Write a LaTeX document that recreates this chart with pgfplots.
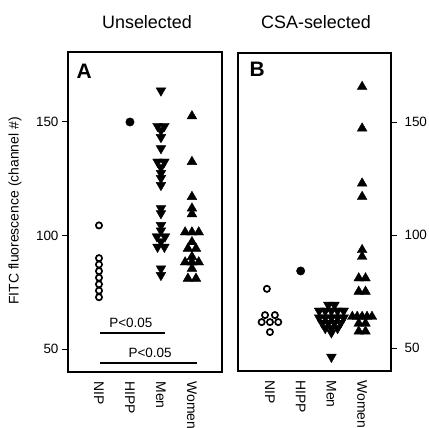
\documentclass[border=0pt]{standalone}
\usepackage{pgfplots}
\pgfplotsset{compat=1.18}
\usepackage{fontspec}
\setmainfont{Liberation Sans}
\begin{document}
\begin{tikzpicture}
\path[use as bounding box] (0,0) rectangle (429bp,428bp);
\clip (0,0) rectangle (429bp,428bp);
\pgfplotsset{
  panel/.style={
    scale only axis,
    anchor=south west,
    axis line style={line width=1.3bp},
    ymin=40,
    xtick={0,1,2,3},
    xticklabels={NIP,HIPP,Men,Women},
    x tick style={draw=none},
    xticklabel style={rotate=-90, anchor=west, font=\fontsize{14}{16}\selectfont},
    ytick={50,100,150},
    tick align=outside,
    major tick length=6bp,
    y tick style={line width=1bp, black},
    yticklabel style={font=\fontsize{13.5}{15}\selectfont},
    /pgf/number format/assume math mode=true,
    clip=false,
  },
  opencirc/.style={only marks, mark=o, mark size=3.1bp, mark options={line width=1.7bp, draw=black}},
  fillcirc/.style={only marks, mark=*, mark size=4.2bp, mark options={fill=black, draw=black}},
  tridown/.style={only marks, mark=triangle*, mark size=5.6bp, mark options={rotate=180, fill=black, draw=none}},
  triup/.style={only marks, mark=triangle*, mark size=5.6bp, mark options={fill=black, draw=none}},
}
% ---------------- Panel A ----------------
\begin{axis}[panel,
  at={(68bp,56bp)}, width=154bp, height=320bp,
  xmin=-1, xmax=3.97, ymax=180.8,
  ytick pos=left,
]
\addplot[opencirc] coordinates {(0,104.5)(0,90.1)(0,87.3)(0,84.4)(0,81.5)(0,78.6)(0,75.8)(0,72.9)};
\addplot[fillcirc] coordinates {(1,150)};
\addplot[tridown] coordinates {
 (2,163.8)
 (1.89,148.2)(2.11,148.2)
 (2,146.3)(2,143.3)(2,138.4)
 (1.89,132.5)(2.11,132.5)
 (2,130)(2,127.5)(2,125.3)(2,122.2)
 (2,112)(2,109.8)(2,104.6)(2,102.2)
 (1.87,99.6)(2.13,99.6)(2,97.4)(1.89,95)(2.11,95)
 (2,85.5)(2,82.6)};
\addplot[triup] coordinates {
 (3,152.6)(3,132.5)(3,117.1)(3,112)(3,109.5)
 (2.78,101.5)(3,101.5)(3.22,101.5)
 (3,97.2)
 (2.87,94.3)(3.13,94.3)
 (3,90.7)
 (2.78,88.3)(3,88.3)(3.22,88.3)
 (3,85.5)
 (2.87,81.1)(3.13,81.1)};
\addplot[black, line width=1.3bp] coordinates {(0.03,57.2)(2.13,57.2)};
\addplot[black, line width=1.3bp] coordinates {(0.03,43.9)(3.16,43.9)};
\node[font=\fontsize{13.5}{15}\selectfont] at (axis cs:1.03,61.6) {P<0.05};
\node[font=\fontsize{13.5}{15}\selectfont] at (axis cs:1.65,48.3) {P<0.05};
\node[anchor=north west, inner sep=0pt, font=\fontsize{21}{23}\bfseries] at (rel axis cs:0.055,0.962) {A};
\end{axis}
% ---------------- Panel B ----------------
\begin{axis}[panel,
  at={(238bp,57bp)}, width=153bp, height=318bp,
  xmin=-1.04, xmax=3.94, ymax=180.5,
  ytick pos=right,
  yticklabel style={xshift=4bp},
]
\addplot[opencirc] coordinates {(-0.1,76.3)(-0.16,64.7)(0.16,64.7)(-0.27,61.6)(0,61.6)(0.27,61.6)(0,57.2)};
\addplot[fillcirc] coordinates {(1,84.2)};
\addplot[tridown] coordinates {
 (1.9,69.2)(2.1,69.2)
 (1.6,66.6)(1.8,66.6)(2,66.6)(2.2,66.6)(2.4,66.6)
 (1.6,63.6)(1.8,63.6)(2,63.6)(2.2,63.6)(2.4,63.6)
 (1.7,61.2)(1.9,61.2)(2.1,61.2)(2.3,61.2)
 (1.8,58.9)(2,58.9)(2.2,58.9)
 (2,57)
 (2,46.2)};
\addplot[triup] coordinates {
 (3,165.6)(3,147.2)(3,122.9)(3,117)(3,93.5)(3,90.5)
 (2.89,81)(3.11,81)
 (2.89,75.1)(3.11,75.1)
 (2.68,64)(2.84,64)(3,64)(3.16,64)(3.32,64)
 (2.89,61)(3.11,61)
 (2.89,57.5)(3.11,57.5)};
\node[anchor=north west, inner sep=0pt, font=\fontsize{21}{23}\bfseries] at (rel axis cs:0.075,0.972) {B};
\end{axis}
% ---------------- Titles and label ----------------
\node[font=\fontsize{18}{20}\selectfont] at (147bp,406bp) {Unselected};
\node[font=\fontsize{18}{20}\selectfont] at (316bp,406bp) {CSA-selected};
\node[rotate=90, font=\fontsize{14}{16}\selectfont] at (15bp,217bp) {FITC fluorescence (channel \#)};
\end{tikzpicture}
\end{document}
